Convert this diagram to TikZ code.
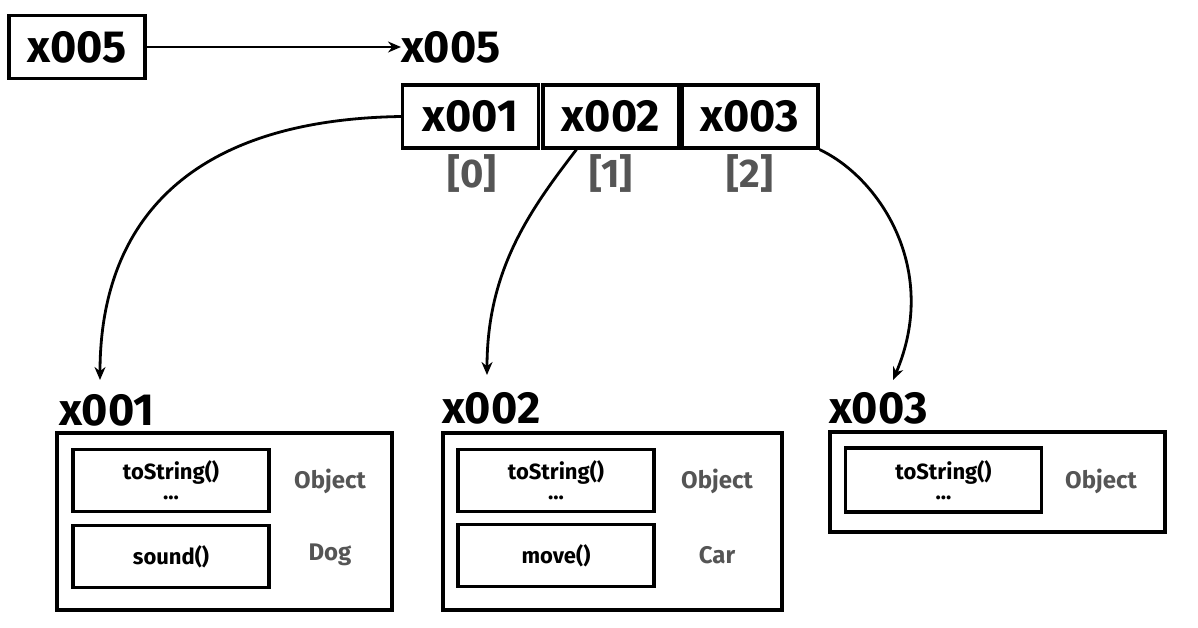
\documentclass[tikz,border=0pt]{standalone}
\usepackage{fontspec}
\setmainfont{Fira Sans}
\usetikzlibrary{arrows.meta}
\definecolor{labelgray}{HTML}{555555}
\begin{document}
\begin{tikzpicture}[x=1pt,y=-1pt,
  cell/.style={draw,line width=3.2pt,inner sep=0pt,minimum width=136pt,minimum height=63pt,font=\fontsize{45}{45}\selectfont\bfseries},
  bigtxt/.style={inner sep=0pt,font=\fontsize{45}{45}\selectfont\bfseries},
  idx/.style={inner sep=0pt,text=labelgray,font=\fontsize{40}{40}\selectfont\bfseries},
  heap/.style={draw,line width=3.2pt,inner sep=0pt,minimum width=335pt},
  method/.style={draw,line width=3.2pt,inner sep=0pt,minimum width=196pt,minimum height=62pt,align=center,font=\fontsize{22}{20}\selectfont\bfseries},
  cls/.style={inner sep=0pt,text=labelgray,font=\fontsize{24}{24}\selectfont\bfseries},
  ref/.style={line width=2.8pt,-{Stealth[length=13pt,width=11pt]}}
]
\useasboundingbox (0,0) rectangle (1198,627);

% reference variable and the array it points to
\node[cell] (var) at (77,47) {x005};
\node[bigtxt,anchor=west] (arrlbl) at (401,47) {x005};
\draw[ref] (var.east) -- (arrlbl.west);

\node[cell] (a0) at (470.5,116.5) {x001};
\node[cell] (a1) at (611,116.5) {x002};
\node[cell] (a2) at (750,116.5) {x003};
\node[idx] (i0) at (472,173) {[0]};
\node[idx] (i1) at (611,173) {[1]};
\node[idx] (i2) at (750,173) {[2]};

% heap objects
\node[bigtxt,anchor=west] (h1lbl) at (59,410) {x001};
\node[heap,minimum height=177pt] (h1) at (224.5,521.5) {};
\node[method] (h1m1) at (171,480.5) {toString()\\...};
\node[method] (h1m2) at (171,556.5) {sound()};
\node[cls] (h1c1) at (330,481) {Object};
\node[cls] (h1c2) at (330,555) {Dog};

\node[bigtxt,anchor=west] (h2lbl) at (442,408) {x002};
\node[heap,minimum height=177pt,minimum width=339pt] (h2) at (612.5,521.5) {};
\node[method] (h2m1) at (556,480.5) {toString()\\...};
\node[method] (h2m2) at (556,555.5) {move()};
\node[cls] (h2c1) at (717,481) {Object};
\node[cls] (h2c2) at (717,555) {Car};

\node[bigtxt,anchor=west] (h3lbl) at (829,408) {x003};
\node[heap,minimum height=100pt] (h3) at (997.5,482) {};
\node[method,minimum height=64pt] (h3m1) at (943.5,480) {toString()\\...};
\node[cls] (h3c1) at (1101,481) {Object};

% references from the array elements to the objects
\coordinate (t1) at (100,380);
\coordinate (t2) at (487,375);
\coordinate (t3) at (893,380);
\draw[ref] (a0.west) .. controls (180,120) and (100,230) .. (t1);
\draw[ref] (a1.south west) ++(35,0) .. controls (530,210) and (487,270) .. (t2);
\draw[ref] (a2.south east) .. controls (880,178) and (940,270) .. (t3);
\end{tikzpicture}
\end{document}
